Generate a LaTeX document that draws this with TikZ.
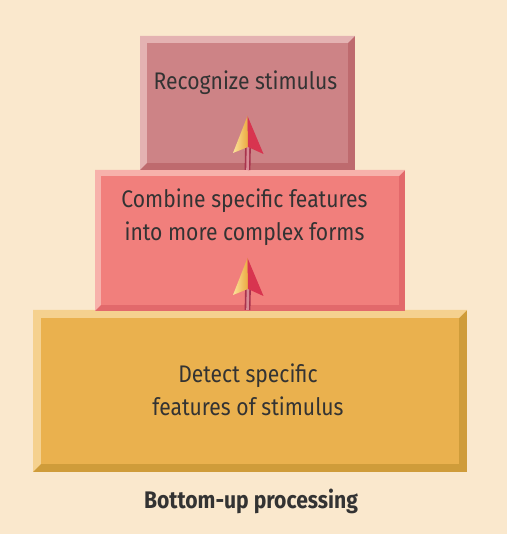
\documentclass[tikz,border=0pt]{standalone}
\usepackage{fontspec}
\setmainfont{Fira Sans}[FakeStretch=0.88]
\usetikzlibrary{calc}

\definecolor{paper}{HTML}{FAE8CD}
\definecolor{inktext}{HTML}{333333}
% tier colours: face, lit bevel, shaded bevel
\definecolor{recface}{HTML}{CD8386}
\definecolor{reclit}{HTML}{E4B2B2}
\definecolor{recdark}{HTML}{BE6A6E}
\definecolor{comface}{HTML}{F17F7C}
\definecolor{comlit}{HTML}{F7B1AB}
\definecolor{comdark}{HTML}{E2696B}
\definecolor{detface}{HTML}{EAB14E}
\definecolor{detlit}{HTML}{F5D18F}
\definecolor{detdark}{HTML}{CF9C3A}
% arrow colours
\definecolor{shaftedge}{HTML}{A8334D}
\definecolor{shaftcore}{HTML}{D98A95}
\definecolor{headlight}{HTML}{FBE39A}
\definecolor{headgold}{HTML}{EBA940}
\definecolor{headred}{HTML}{D8344F}

\tikzset{
  tier/.style={rectangle, inner sep=0pt, outer sep=0pt, draw=none},
  tiertext/.style={inner sep=0pt, align=center, text=inktext,
    font=\fontsize{24}{33}\selectfont, anchor=base},
  captiontext/.style={inner sep=0pt, text=inktext,
    font=\fontsize{24}{30}\selectfont\bfseries, anchor=base},
  shaft/.style={draw=shaftedge, line width=1.6pt, double=shaftcore,
    double distance=2.6pt},
}

% bevelled slab: #1 node name, #2 bevel width, #3 lit, #4 shaded, #5 face
\newcommand\bevelslab[5]{%
  \fill[#4] (#1.south west) rectangle (#1.north east);
  \fill[#3] (#1.south west) -- (#1.north west) -- (#1.north east)
    -- ($(#1.north east)+(-#2,-#2)$) -- ($(#1.north west)+(#2,-#2)$)
    -- ($(#1.south west)+(#2,#2)$) -- cycle;
  \fill[#5] ($(#1.north west)+(#2,-#2)$) rectangle ($(#1.south east)+(-#2,#2)$);
}

% two-tone dart head with its tip at coordinate #1
\newcommand\darthead[1]{%
  \shade[left color=headlight, right color=headgold]
    (#1) -- ($(#1)+(-14.5,-37)$) -- ($(#1)+(0.5,-31)$) -- cycle;
  \fill[headred] (#1) -- ($(#1)+(0.5,-31)$) -- ($(#1)+(16,-38)$) -- cycle;
}

\begin{document}
\begin{tikzpicture}[x=1pt,y=1pt]
\fill[paper] (0,0) rectangle (507,534);
\useasboundingbox (0,0) rectangle (507,534);

% the three tiers, bottom to top
\node[tier, minimum width=434pt, minimum height=162pt] (detect) at (250,143) {};
\node[tier, minimum width=310pt, minimum height=141pt] (combine) at (250,293.5) {};
\node[tier, minimum width=215pt, minimum height=134pt] (recognize) at (247.5,431) {};

\bevelslab{detect}{8}{detlit}{detdark}{detface}
\bevelslab{combine}{6}{comlit}{comdark}{comface}
\bevelslab{recognize}{7}{reclit}{recdark}{recface}

% labels (base anchor sits on the last line)
\node[tiertext] (recognizetext) at (245.5,444.7) {Recognize stimulus};
\node[tiertext] (combinetext) at (244.5,293) {Combine specific features\\into more complex forms};
\node[tiertext] (detecttext) at (248,118.5) {Detect specific\\features of stimulus};
\node[captiontext] (caption) at (251,25) {Bottom-up processing};

% upward arrows between tiers
\coordinate (tipupper) at (247.5,418);
\coordinate (tiplower) at (247.5,276);
\draw[shaft] (combine.north -| tipupper) -- ($(tipupper)+(0.5,-30)$);
\darthead{tipupper}
\draw[shaft] (detect.north -| tiplower) -- ($(tiplower)+(0.5,-30)$);
\darthead{tiplower}
\end{tikzpicture}
\end{document}
